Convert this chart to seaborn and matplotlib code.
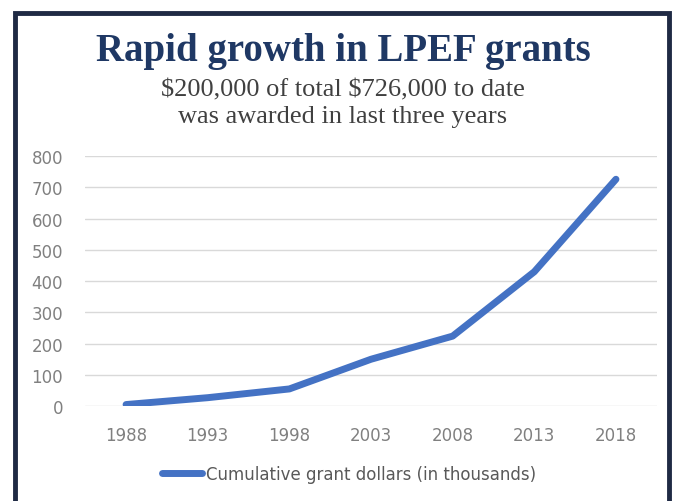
import pandas as pd
import matplotlib.pyplot as plt
import seaborn as sns
from matplotlib.patches import Rectangle

# chart values
years = [1988, 1993, 1998, 2003, 2008, 2013, 2018]
grants = [5, 27, 55, 150, 224, 430, 726]
series_name = "Cumulative grant dollars (in thousands)"

title = "Rapid growth in LPEF grants"
subtitle = "\\$200,000 of total \\$726,000 to date\nwas awarded in last three years"

df = pd.DataFrame({"year": years, "grants": grants})

sns.set_theme(style="white")
plt.rcParams['font.family'] = ['DejaVu Sans']

fig = plt.figure(figsize=(6.82, 5.02), dpi=100)
ax = fig.add_axes([0.125, 0.189, 0.838, 0.498])

sns.lineplot(data=df, x="year", y="grants", ax=ax, color="#4472C4",
             linewidth=5, label=series_name, legend=False)

ax.set_xlim(1985.5, 2020.5)
ax.set_ylim(0, 800)
ax.set_xticks(years)
ax.set_yticks(range(0, 801, 100))
ax.set_xlabel("")
ax.set_ylabel("")
ax.grid(axis="y", color="#d9d9d9", linewidth=1)
ax.set_axisbelow(True)
for s in ax.spines.values():
    s.set_visible(False)
ax.tick_params(axis="both", length=0, labelsize=12, labelcolor="#808080")
ax.tick_params(axis="x", pad=14)
ax.tick_params(axis="y", pad=16)

handles = ax.get_lines()[:1]
leg = fig.legend(handles, [series_name], loc="center", bbox_to_anchor=(0.512, 0.054),
                 frameon=False, fontsize=12, handlelength=2.4, handletextpad=0.2)
for t in leg.get_texts():
    t.set_color("#595959")

fig.text(0.503, 0.897, title, ha="center", va="center", fontsize=28,
         fontweight="bold", color="#1F3864", family="Liberation Serif")
fig.text(0.503, 0.793, subtitle, ha="center", va="center", fontsize=19,
         color="#404040", family="Liberation Serif", linespacing=1.3)

# dark frame around the chart
fig.patches.append(Rectangle((15 / 682, -0.05), 654 / 682, 1.05 - 14 / 502,
                             transform=fig.transFigure, fill=False,
                             edgecolor="#1F2A44", linewidth=3.5))

fig.savefig("out.png", dpi=100, facecolor="white")
